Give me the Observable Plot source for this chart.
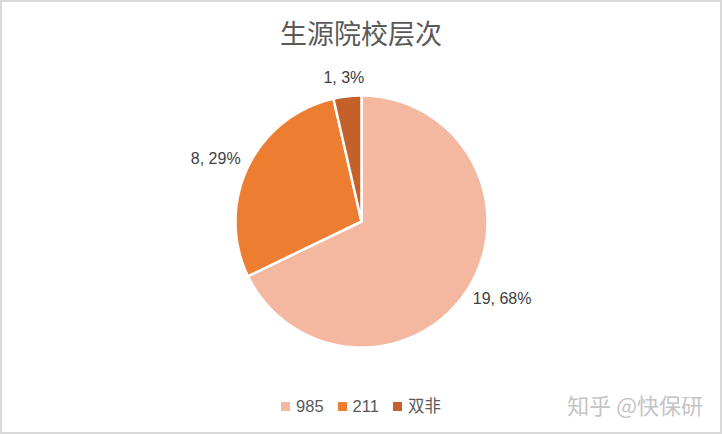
<!DOCTYPE html>
<html>
<head>
<meta charset="utf-8">
<script src="https://cdn.jsdelivr.net/npm/d3@7"></script>
<script src="https://cdn.jsdelivr.net/npm/@observablehq/plot@0.6"></script>
<style>
  html, body { margin: 0; padding: 0; background: #fff; }
  #frame { position: relative; width: 722px; height: 434px; box-sizing: border-box; border: 2px solid #d9d9d9; background: #fff; overflow: hidden; }
  #title { position: absolute; left: 0; top: 12px; width: 100%; text-align: center; font-family: "Noto Sans CJK SC", sans-serif; font-size: 27px; line-height: 38px; color: #595959; }
  #chart { position: absolute; left: 0; top: 59px; }
  #legend { position: absolute; left: 0; top: 394px; width: 100%; height: 20px; display: flex; justify-content: center; align-items: center; font-family: "Liberation Sans", "Noto Sans CJK SC", sans-serif; font-size: 16.5px; line-height: 20px; color: #595959; }
  #legend .item { display: flex; align-items: center; margin: 0 7px; }
  #legend .sw { width: 9px; height: 9px; margin-right: 6px; }
  #mark { position: absolute; right: 17px; top: 386px; font-family: "Noto Sans CJK SC", sans-serif; font-size: 22px; line-height: 32px; color: #c4c4c4; }
</style>
</head>
<body>
<div id="frame">
  <div id="title"></div>
  <div id="chart"></div>
  <div id="legend"></div>
  <div id="mark">知乎 @快保研</div>
</div>
<script>
const titleText = "生源院校层次";
const categories = ["985", "211", "双非"];
const counts = [19, 8, 1];
const percents = [68, 29, 3];
const colors = ["#F4B8A0", "#ED7D31", "#C4612A"];

document.getElementById("title").textContent = titleText;

const W = 718, H = 320, R = 126;

// slice polygons built from data angles (clockwise from 12 o'clock)
const pie = d3.pie().sort(null).value(d => d.count)(categories.map((c, i) => ({cat: c, count: counts[i], pct: percents[i]})));
const polys = [];
const labels = [];
pie.forEach(s => {
  const cat = s.data.cat;
  polys.push({cat, x: 0, y: 0});
  const n = Math.max(2, Math.ceil((s.endAngle - s.startAngle) / (Math.PI / 180)));
  for (let k = 0; k <= n; k++) {
    const a = s.startAngle + (s.endAngle - s.startAngle) * k / n;
    polys.push({cat, x: R * Math.sin(a), y: -R * Math.cos(a)});
  }
  polys.push({cat, x: 0, y: 0});
  const mid = (s.startAngle + s.endAngle) / 2;
  const dx = Math.sin(mid), dy = -Math.cos(mid);
  const text = `${s.data.count}, ${s.data.pct}%`;
  const hw = text.length * 4.3, hh = 9;
  labels.push({text, x: (R + 10) * dx + hw * dx, y: (R + 10) * dy + hh * dy});
});

const chart = Plot.plot({
  width: W,
  height: H,
  margin: 0,
  x: {domain: [-W / 2, W / 2], range: [0, W], axis: null},
  y: {domain: [-H / 2, H / 2], range: [0, H], axis: null},
  color: {domain: categories, range: colors},
  style: {background: "transparent", overflow: "visible"},
  marks: [
    Plot.line(polys, {x: "x", y: "y", z: "cat", fill: "cat", stroke: "#ffffff", strokeWidth: 2.5, strokeLinejoin: "miter", curve: "linear"}),
    Plot.text(labels, {x: "x", y: "y", text: "text", fontSize: 16, fill: "#404040", fontFamily: "Liberation Sans, sans-serif", textAnchor: "middle", lineAnchor: "middle"})
  ]
});
document.getElementById("chart").appendChild(chart);

const legend = document.getElementById("legend");
categories.forEach((c, i) => {
  const item = document.createElement("div");
  item.className = "item";
  const sw = document.createElement("span");
  sw.className = "sw";
  sw.style.background = colors[i];
  const t = document.createElement("span");
  t.textContent = c;
  item.appendChild(sw);
  item.appendChild(t);
  legend.appendChild(item);
});
</script>
</body>
</html>
